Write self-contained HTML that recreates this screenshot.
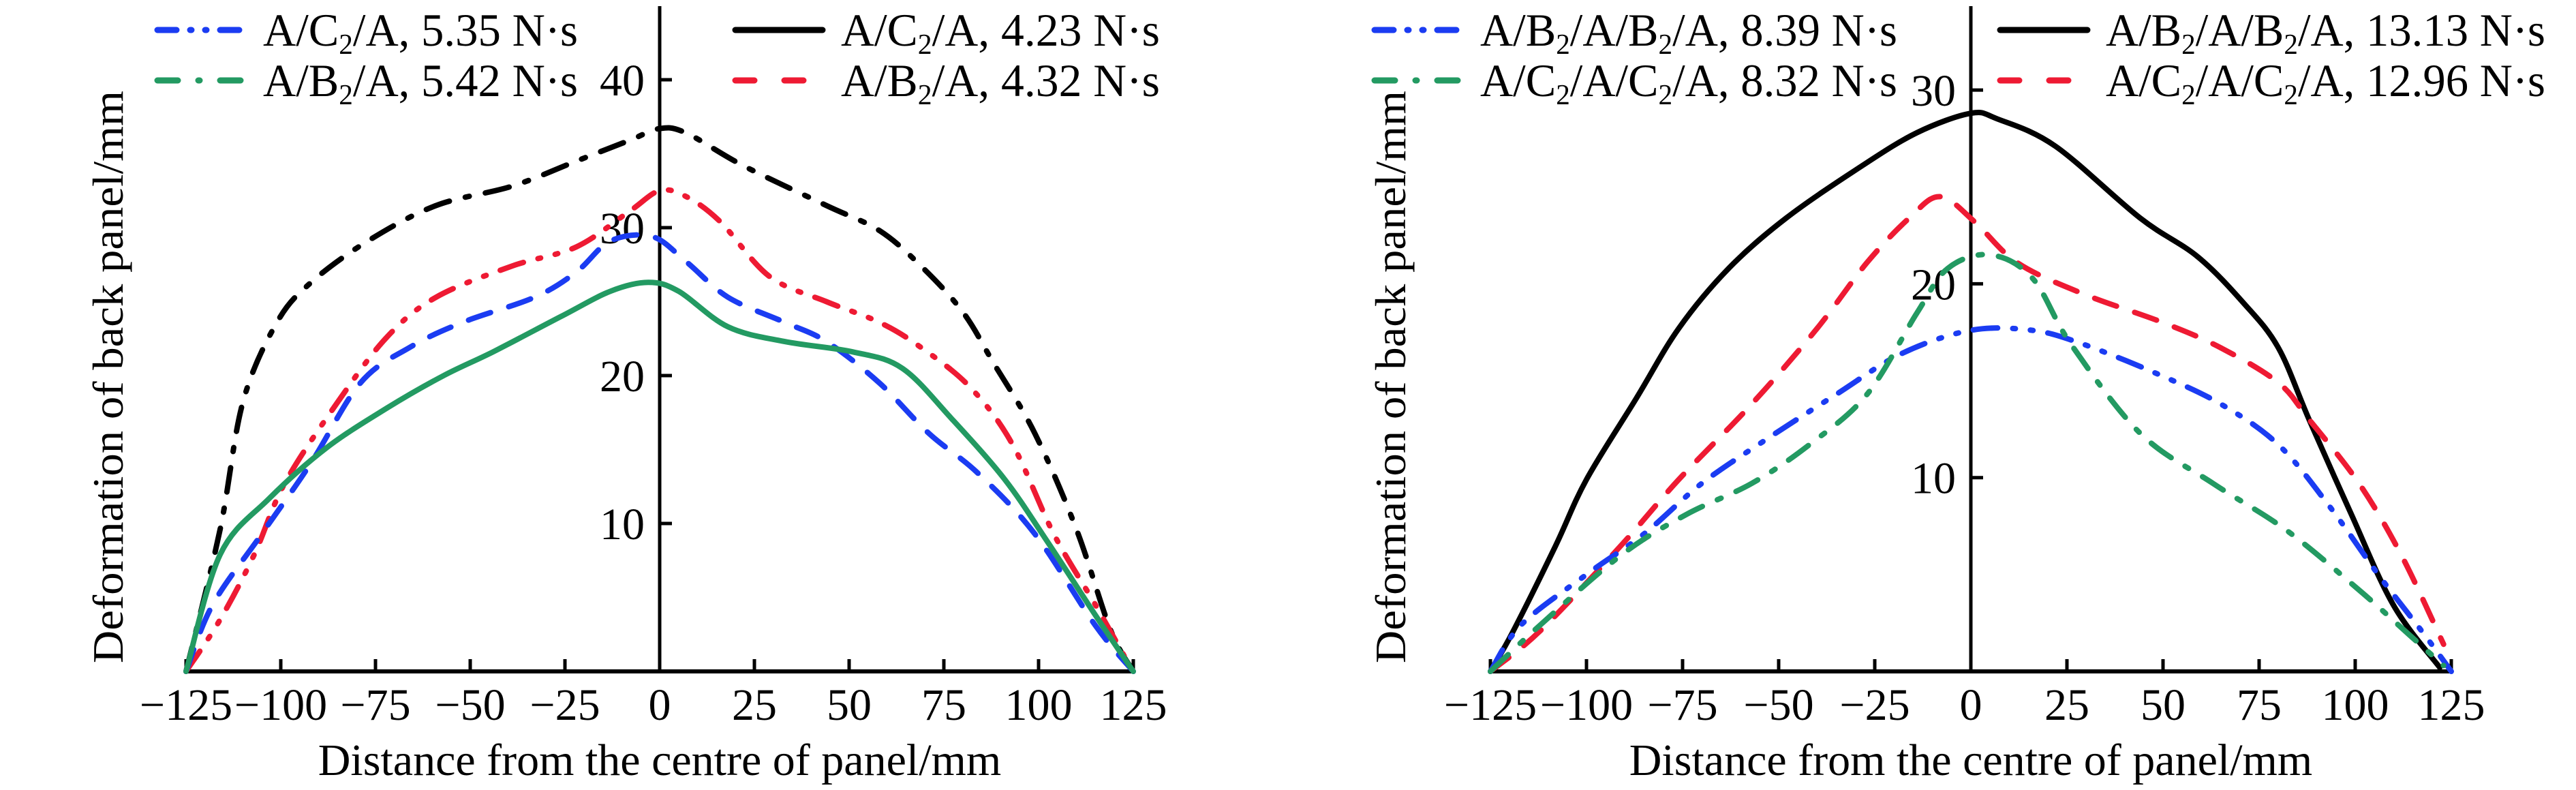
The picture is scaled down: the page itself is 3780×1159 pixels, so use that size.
<!DOCTYPE html>
<html><head><meta charset="utf-8"><style>
html,body{margin:0;padding:0;background:#fff}
svg{display:block}
text{font-family:"Liberation Serif",serif;fill:#000}
</style></head><body>
<svg id="svg" width="3780" height="1159" viewBox="0 0 3780 1159" xmlns="http://www.w3.org/2000/svg"></svg>
<script>
// ---- Left chart data ----
const leftX1 = [-125,-116,-110,-101,-92,-77,-59,-39,-22,-8,0,7,22,44,58,69,80,88,99,110,119,125];
const leftBlack = [0,9.6,18.2,23.6,26.3,29.1,31.5,32.8,34.5,35.9,36.7,36.4,34.2,31.5,29.8,27.4,24.3,20.9,16.1,9.6,2.8,0];
const leftX2 = [-125,-116,-107,-99,-85,-72,-59,-39,-22,-8,0,7,16,29,44,58,69,82,93,104,115,124];
const leftRed = [0,3.5,7.9,12.7,18.2,22.6,25.3,27.4,28.7,31.1,32.5,32.1,30.4,26.7,25.0,23.6,21.9,19.2,15.4,9.3,4.5,0.4];
const leftX3 = [-125,-118,-105,-92,-79,-66,-52,-33,-22,-13,-2,7,18,33,44,58,71,84,99,115,125];
const leftBlue = [0,4.5,9.3,14.1,19.5,21.9,23.6,25.3,27.0,29.1,29.4,27.7,25.3,23.6,22.3,19.5,16.1,13.4,9.3,3.1,0];
const leftX4 = [-125,-116,-103,-88,-72,-57,-44,-26,-13,-3,5,18,33,51,64,77,91,102,115,125];
const leftGreen = [0,7.9,11.7,15.1,17.8,20.0,21.6,24.0,25.7,26.3,25.7,23.3,22.3,21.6,20.5,17.1,13.0,8.9,3.8,0];
const leftYTicks = [10,20,30,40];
// ---- Right chart data ----
const rightX1 = [-125,-119,-108,-100,-87,-76,-63,-48,-29,-14,0,7,22,44,59,71,80,88,99,110,122];
const rightBlack = [0,2.1,6.5,9.9,14.1,17.7,20.8,23.4,26.0,27.8,28.8,28.5,27.1,23.4,21.4,19.0,16.7,13.0,8.1,3.4,0.2];
const rightX2 = [-125,-112,-91,-76,-57,-40,-27,-16,-8,1,12,29,50,65,80,88,101,112,123];
const rightRed = [0,2.1,6.5,9.9,13.8,17.7,21.1,23.4,24.5,23.2,21.1,19.5,18.0,16.7,14.9,13.0,9.7,6.0,1.4];
const rightX3 = [-125,-117,-100,-85,-70,-53,-35,-18,0,16,29,48,65,80,93,106,118,125];
const rightBlue = [0,2.4,5.0,7.1,9.7,12.0,14.3,16.4,17.6,17.6,16.9,15.4,13.8,11.7,8.6,5.0,1.9,0];
const rightX4 = [-125,-112,-91,-74,-57,-42,-27,-14,-6,5,16,26,44,63,82,101,114,123];
const rightGreen = [0,2.4,6.0,8.1,9.7,11.7,14.3,18.5,20.8,21.5,20.3,16.9,12.3,9.7,7.3,4.2,1.9,0.3];
const rightYTicks = [10,20,30];
const xTicks = [-125,-100,-75,-50,-25,0,25,50,75,100,125];

const NS="http://www.w3.org/2000/svg";
const svg=document.getElementById('svg');
function mk(tag,attrs,parent){const e=document.createElementNS(NS,tag);for(const k in attrs)e.setAttribute(k,attrs[k]);(parent||svg).appendChild(e);return e;}
const C={blue:'#1b3cf2',green:'#239a62',red:'#ee1a33',black:'#000'};
const STY={ddot:'36 22 4 22 4 22', dot:'36 24 6 24', dash:'34 28', solid:'none'};

function smoothPath(P){
  let d='M'+P[0][0].toFixed(1)+','+P[0][1].toFixed(1);
  for(let i=0;i<P.length-1;i++){
    const p0=P[i-1]||P[i],p1=P[i],p2=P[i+1],p3=P[i+2]||P[i+1];
    const c1=[p1[0]+(p2[0]-p0[0])/6,p1[1]+(p2[1]-p0[1])/6];
    const c2=[p2[0]-(p3[0]-p1[0])/6,p2[1]-(p3[1]-p1[1])/6];
    d+=' C'+c1.map(v=>v.toFixed(1)).join(',')+' '+c2.map(v=>v.toFixed(1)).join(',')+' '+p2.map(v=>v.toFixed(1)).join(',');
  }
  return d;
}

function chart(cfg){
  const g=mk('g',{});
  
  
  const sx=v=>cfg.x0+(v+125)/250*(cfg.x1-cfg.x0);
  const sy=v=>cfg.base-v*cfg.py;
  const xa=mk('line',{x1:cfg.x0-3,y1:cfg.base,x2:cfg.x1+3,y2:cfg.base,stroke:'#000','stroke-width':6},g);
  
  
  const ya=mk('line',{x1:sx(0),y1:9,x2:sx(0),y2:cfg.base,stroke:'#000','stroke-width':5},g);
  
  
  xTicks.forEach(t=>{
    const l=mk('line',{x1:sx(t),y1:cfg.base,x2:sx(t),y2:cfg.base-18,stroke:'#000','stroke-width':5},g);
    
    
    const tx=mk('text',{x:sx(t),y:1056,'font-size':66,'text-anchor':'middle'},g);
    tx.textContent=(t<0?'\u2212'+(-t):String(t));
    
    
  });
  cfg.yTicks.forEach(t=>{
    const l=mk('line',{x1:sx(0),y1:sy(t),x2:sx(0)+18,y2:sy(t),stroke:'#000','stroke-width':5},g);
    
    
    const tx=mk('text',{x:sx(0)-22,y:sy(t)+23,'font-size':66,'text-anchor':'end'},g);
    tx.textContent=String(t);
    
    
  });
  const xt=mk('text',{x:(cfg.x0+cfg.x1)/2,y:1137,'font-size':66,'text-anchor':'middle'},g);
  xt.textContent='Distance from the centre of panel/mm';
  
  
  const yt=mk('text',{x:0,y:0,'font-size':64,'text-anchor':'middle',textLength:840,lengthAdjust:'spacingAndGlyphs',transform:`translate(${cfg.ytx},553) rotate(-90)`},g);
  yt.textContent='Deformation of back panel/mm';
  
  
  cfg.series.forEach(s=>{
    const P=s.xs.map((x,i)=>[sx(x),sy(s.ys[i])]);
    const p=mk('path',{d:smoothPath(P),fill:'none',stroke:C[s.color],'stroke-width':8,'stroke-linecap':'round','stroke-linejoin':'round'},g);
    if(s.style!=='solid')p.setAttribute('stroke-dasharray',STY[s.style]);
    
    
  });
  cfg.legend.forEach(L=>{
    const lg=mk('g',{},g);
    
    
    const ln=mk('line',{x1:L.x,y1:L.y,x2:L.x+128,y2:L.y,stroke:C[L.color],'stroke-width':9,'stroke-linecap':'round'},lg);
    if(L.style!=='solid')ln.setAttribute('stroke-dasharray',L.style==='ddot'?'28 20 2 20 2 20':(L.style==='dot'?'30 30 2 30':'28 44'));
    const t=mk('text',{x:L.x+155,y:L.y+23,'font-size':68,textLength:L.w,lengthAdjust:'spacingAndGlyphs'},lg);
    L.parts.forEach(p=>{
      if(p.sub){const s=mk('tspan',{'font-size':42,dy:12},t);s.textContent=p.sub;}
      else{const s=mk('tspan',{dy:p.first?0:-12},t);s.textContent=p.t;}
    });
  });
}
function parts(str){
  const out=[];str.split('_').forEach((seg,i)=>{if(i===0){out.push({t:seg,first:true});}else{out.push({sub:seg[0]});out.push({t:seg.slice(1)});}});return out;}

chart({name:'left-chart',x0:273,x1:1663,base:985,py:21.7,yTicks:leftYTicks,ytx:180,
  series:[
    {name:'series-black-4.23',xs:leftX1,ys:leftBlack,color:'black',style:'dot'},
    {name:'series-red-4.32',xs:leftX2,ys:leftRed,color:'red',style:'ddot'},
    {name:'series-blue-5.35',xs:leftX3,ys:leftBlue,color:'blue',style:'dash'},
    {name:'series-green-5.42',xs:leftX4,ys:leftGreen,color:'green',style:'solid'}],
  legend:[
    {x:231,y:44,w:462,color:'blue',style:'ddot',parts:parts('A/C_2/A, 5.35 N\u00b7s')},
    {x:231,y:118,w:462,color:'green',style:'dot',parts:parts('A/B_2/A, 5.42 N\u00b7s')},
    {x:1079,y:44,w:468,color:'black',style:'solid',parts:parts('A/C_2/A, 4.23 N\u00b7s')},
    {x:1079,y:118,w:468,color:'red',style:'dash',parts:parts('A/B_2/A, 4.32 N\u00b7s')}]
});
chart({name:'right-chart',x0:2187,x1:3597,base:985,py:28.43,yTicks:rightYTicks,ytx:2062,
  series:[
    {name:'series-black-13.13',xs:rightX1,ys:rightBlack,color:'black',style:'solid'},
    {name:'series-red-12.96',xs:rightX2,ys:rightRed,color:'red',style:'dash'},
    {name:'series-blue-8.39',xs:rightX3,ys:rightBlue,color:'blue',style:'ddot'},
    {name:'series-green-8.32',xs:rightX4,ys:rightGreen,color:'green',style:'dot'}],
  legend:[
    {x:2017,y:44,w:612,color:'blue',style:'ddot',parts:parts('A/B_2/A/B_2/A, 8.39 N\u00b7s')},
    {x:2017,y:118,w:612,color:'green',style:'dot',parts:parts('A/C_2/A/C_2/A, 8.32 N\u00b7s')},
    {x:2935,y:44,w:645,color:'black',style:'solid',parts:parts('A/B_2/A/B_2/A, 13.13 N\u00b7s')},
    {x:2935,y:118,w:645,color:'red',style:'dash',parts:parts('A/C_2/A/C_2/A, 12.96 N\u00b7s')}]
});
</script>
</body></html>
